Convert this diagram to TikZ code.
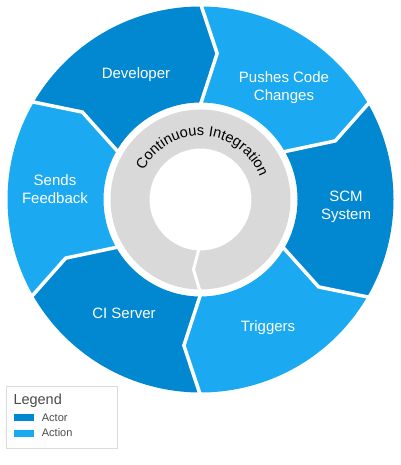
\documentclass[tikz,border=0pt]{standalone}
\usepackage{fontspec}
\setmainfont{Liberation Sans}
\usetikzlibrary{decorations.text,calc}
\definecolor{actorblue}{HTML}{0288D1}
\definecolor{actionblue}{HTML}{1BAAF1}
\definecolor{ringgray}{HTML}{D9D9D9}
\definecolor{legendline}{HTML}{DADADA}
\definecolor{legendtext}{HTML}{4A4A4A}
\tikzset{
  seglabel/.style={text=white, font=\fontsize{15}{18}\selectfont, inner sep=0pt, align=center},
  sepline/.style={draw=white, line width=3.5pt, line join=miter},
  swatch/.style={inner sep=0pt, minimum width=19.3pt, minimum height=7.7pt},
  legendlabel/.style={text=legendtext, font=\fontsize{11}{13}\selectfont, inner sep=0pt, anchor=base west},
}
\begin{document}
\begin{tikzpicture}[x=1pt,y=1pt]
\useasboundingbox (0,0) rectangle (400,465);
\fill[white] (0,0) rectangle (400,465);
\coordinate (c) at (200.5,265.5);
\begin{scope}[shift={(200.5,265.5)}]
  % segments: start angle, colour
  \foreach \a/\col in {150/actorblue, 90/actionblue, 30/actorblue, -30/actionblue, -90/actorblue, -150/actionblue}{
    \pgfmathsetmacro\b{\a-60}
    \pgfmathsetmacro\ak{\a-6.5}
    \pgfmathsetmacro\bk{\b-6.5}
    \fill[\col] (\a:193pt) arc[start angle=\a, end angle=\b, radius=193pt]
      -- (\bk:147pt) -- (\b:97pt)
      arc[start angle=\b, end angle=\a, radius=97pt]
      -- (\ak:147pt) -- cycle;
  }
  \foreach \a in {90,30,-30,-90,-150,150}{
    \pgfmathsetmacro\ak{\a-6.5}
    \draw[sepline] (\a:95pt) -- (\ak:147pt) -- (\a:196pt);
  }
  % grey ring
  \fill[ringgray, even odd rule] (0,0) circle (90pt) (0,0) circle (51pt);
  \draw[draw=white, line width=3pt, line join=miter] (-1.5,-49) -- (-7,-70) -- (-0.5,-92);
  % curved title
  \path[decorate, decoration={text along path, text align=center,
      text={|\fontsize{14.6}{16}\selectfont\color{black}|Continuous Integration}}]
      (152:63.5pt) arc[start angle=152, end angle=22, radius=63.5pt];
\end{scope}
% labels
\node[seglabel, anchor=base] (dev) at (136,386.7) {Developer};
\node[seglabel] (push) at (284,377.2) {Pushes Code\\Changes};
\node[seglabel] (scm) at (346,258.2) {SCM\\System};
\node[seglabel, anchor=base] (trig) at (268,133.3) {Triggers};
\node[seglabel, anchor=base] (ci) at (124,146.7) {CI Server};
\node[seglabel] (fb) at (55,275.5) {Sends\\Feedback};
% legend
\node[draw=legendline, line width=0.8pt, fill=white, minimum width=111.3pt, minimum height=62pt, inner sep=0pt, anchor=south west] (legend) at (5.7,16) {};
\node[text=legendtext, font=\fontsize{14.5}{16}\selectfont, inner sep=0pt, anchor=base west] (legtitle) at (13.3,60) {Legend};
\node[swatch, fill=actorblue, anchor=south west] (swactor) at (14,43.3) {};
\node[legendlabel] (lactor) at (41.7,43.3) {Actor};
\node[swatch, fill=actionblue, anchor=south west] (swaction) at (14,27.3) {};
\node[legendlabel] (laction) at (41.7,28.3) {Action};
\end{tikzpicture}
\end{document}
